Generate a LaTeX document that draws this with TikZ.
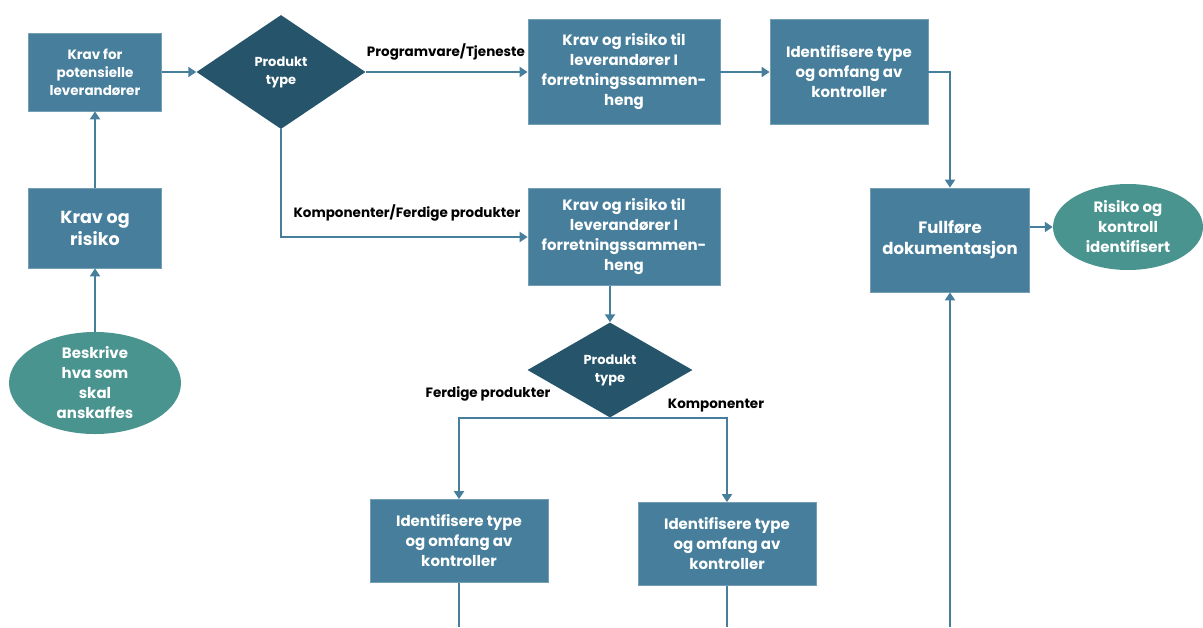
\documentclass[tikz,border=0pt]{standalone}
\usepackage{fontspec}
\setmainfont{Poppins}
\usetikzlibrary{shapes.geometric,arrows.meta}
\definecolor{boxblue}{RGB}{70,126,155}
\definecolor{diadark}{RGB}{37,84,107}
\definecolor{ovalteal}{RGB}{74,148,143}
\begin{document}
\begin{tikzpicture}[x=1pt,y=-1pt,
  proc/.style={rectangle, fill=boxblue, draw=boxblue!75!white, line width=0.8pt,
    inner sep=0pt, align=center, text=white,
    font=\bfseries\fontsize{15}{20}\selectfont},
  decide/.style={diamond, fill=diadark, inner sep=0pt, aspect=1.5, align=center,
    text=white, font=\bfseries\fontsize{13}{18}\selectfont},
  terminal/.style={ellipse, fill=ovalteal, inner sep=0pt, align=center,
    text=white, font=\bfseries\fontsize{15}{20}\selectfont},
  branch/.style={font=\bfseries\fontsize{13.5}{16}\selectfont, text=black, inner sep=0pt},
  link/.style={draw=boxblue, line width=2pt},
  flow/.style={link, -{Triangle[length=8pt,width=10pt]}}
]
\useasboundingbox (0,0) rectangle (1203,627);

% left column
\node[proc, minimum width=133pt, minimum height=78pt, font=\bfseries\fontsize{13.5}{18}\selectfont]
  (req) at (95,72) {Krav for\\potensielle\\leverandører};
\node[proc, minimum width=133pt, minimum height=80pt, font=\bfseries\fontsize{17.5}{22}\selectfont]
  (risk) at (95,228) {Krav og\\risiko};
\node[terminal, minimum width=172pt, minimum height=90pt]
  (start) at (95,383) {Beskrive\\hva som\\skal\\anskaffes};

% first decision
\node[decide, minimum width=169pt, minimum height=114pt] (type1) at (281,72) {Produkt\\type};

% upper branch
\node[proc, minimum width=192pt, minimum height=105pt] (ctxA) at (624,72)
  {Krav og risiko til\\leverandører I\\forretningssammen-\\heng};
\node[proc, minimum width=158pt, minimum height=105pt] (ctrlA) at (849,72)
  {Identifisere type\\og omfang av\\kontroller};
\node[proc, minimum width=159pt, minimum height=104pt, font=\bfseries\fontsize{16.5}{21}\selectfont]
  (doc) at (950,240) {Fullføre\\dokumentasjon};
\node[terminal, minimum width=150pt, minimum height=86pt] (done) at (1128,227)
  {Risiko og\\kontroll\\identifisert};

% lower branch
\node[proc, minimum width=192pt, minimum height=97pt] (ctxB) at (624,237)
  {Krav og risiko til\\leverandører I\\forretningssammen-\\heng};
\node[decide, minimum width=165pt, minimum height=95pt] (type2) at (610,370) {Produkt\\type};
\node[proc, minimum width=178pt, minimum height=83pt] (ctrlB) at (459,541)
  {Identifisere type\\og omfang av\\kontroller};
\node[proc, minimum width=178pt, minimum height=83pt] (ctrlC) at (727,544)
  {Identifisere type\\og omfang av\\kontroller};

% branch labels
\node[branch] (lblSW) at (446,52) {Programvare/Tjeneste};
\node[branch] (lblCP) at (407,213) {Komponenter/Ferdige produkter};
\node[branch] (lblFP) at (488,394) {Ferdige produkter};
\node[branch] (lblKO) at (716,406) {Komponenter};

% loose ends running off the lower edge
\coordinate (docIn) at (950,627);
\coordinate (outB) at (459,627);
\coordinate (outC) at (727,627);

% connectors
\draw[flow] (start.north) -- (risk.south);
\draw[flow] (risk.north) -- (req.south);
\draw[flow] (req.east) -- (type1.west);
\draw[flow] (type1.east) -- (ctxA.west);
\draw[flow] (ctxA.east) -- (ctrlA.west);
\draw[flow] (ctrlA.east) -| (doc.north);
\draw[flow] (doc.east |- done.west) -- (done.west);
\draw[flow] (docIn) -- (doc.south);
\draw[flow] (type1.south) |- (ctxB.west);
\draw[flow] (type2.north |- ctxB.south) -- (type2.north);
\draw[flow] (type2.south) -| (ctrlB.north);
\draw[flow] (type2.south) -| (ctrlC.north);
\draw[link] (ctrlB.south) -- (outB);
\draw[link] (ctrlC.south) -- (outC);
\end{tikzpicture}
\end{document}
